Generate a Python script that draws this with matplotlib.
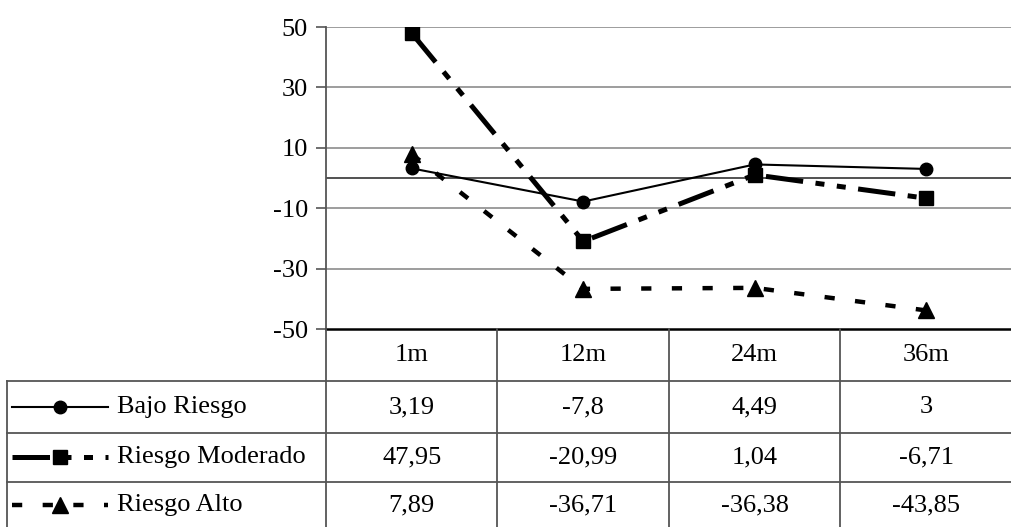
import numpy as np
import matplotlib.pyplot as plt
from matplotlib.lines import Line2D

plt.rcParams['font.family'] = ['Liberation Serif', 'DejaVu Serif']

categories = ['1m', '12m', '24m', '36m']
bajo = [3.19, -7.8, 4.49, 3]
moderado = [47.95, -20.99, 1.04, -6.71]
alto = [7.89, -36.71, -36.38, -43.85]
series_names = ['Bajo Riesgo', 'Riesgo Moderado', 'Riesgo Alto']
series_values = [bajo, moderado, alto]
value_labels = [['3,19', '-7,8', '4,49', '3'],
                ['47,95', '-20,99', '1,04', '-6,71'],
                ['7,89', '-36,71', '-36,38', '-43,85']]
yticks = [50, 30, 10, -10, -30, -50]

W, H = 1012, 527
fig = plt.figure(figsize=(W / 100, H / 100), dpi=100)

# plot area in pixels
left, right, top, bottom = 326, 1012, 27, 329
ax = fig.add_axes([left / W, 1 - bottom / H, (right - left) / W, (bottom - top) / H])

styles = [
    dict(color='black', lw=1.5, marker='o', ms=9, linestyle='-'),
    dict(color='black', lw=3.6, marker='s', ms=10, dashes=(7.5, 2.5, 1.8, 2.5, 1.8, 2.5)),
    dict(color='black', lw=3.2, marker='^', ms=12, dashes=(2.3, 4.6)),
]

x = np.arange(len(categories))
for vals, st in zip(series_values, styles):
    ax.plot(x, vals, zorder=3, **st)

ax.set_xlim(-0.5, len(categories) - 0.5)
ax.set_ylim(-50, 50)
ax.set_yticks(yticks)
ax.set_yticklabels([str(v) for v in yticks], fontsize=19)
ax.set_xticks([])
for v in yticks[:-1]:
    ax.axhline(v, color='#8c8c8c', lw=1.2, zorder=1)
ax.axhline(0, color='#333333', lw=1.2, zorder=1)
for s in ['top', 'right']:
    ax.spines[s].set_visible(False)
ax.spines['left'].set_color('#555555')
ax.spines['left'].set_linewidth(1.3)
ax.spines['bottom'].set_color('black')
ax.spines['bottom'].set_linewidth(1.8)
ax.tick_params(axis='y', length=7, width=1.2, color='#555555', pad=6)

# data table drawn in pixel coordinates
tab = fig.add_axes([0, 0, 1, 1], zorder=0)
tab.set_xlim(0, W)
tab.set_ylim(H, 0)
tab.axis('off')

colw = (right - left) / len(categories)
row_lines = [381, 433, 482]
table_left = 7
grid_c = '#555555'

# horizontal rules
for y in row_lines:
    tab.plot([table_left, right], [y, y], color=grid_c, lw=1.3)
# vertical rules
for i in range(len(categories)):
    xc = left + i * colw
    tab.plot([xc, xc], [bottom, H], color=grid_c, lw=1.3)
tab.plot([table_left, table_left], [row_lines[0], H], color=grid_c, lw=1.3)

# header
for i, c in enumerate(categories):
    tab.text(left + (i + 0.5) * colw, 355, c, ha='center', va='center', fontsize=19)

row_centers = [407, 457, 505]
for r, (name, labels, st) in enumerate(zip(series_names, value_labels, styles)):
    yc = row_centers[r]
    tab.add_line(Line2D([12, 108], [yc, yc], **{k: v for k, v in st.items() if k not in ('marker', 'ms')}))
    tab.plot([60], [yc], color='black', marker=st['marker'], ms=st['ms'], linestyle='none')
    tab.text(117, yc, name, ha='left', va='center', fontsize=19)
    for i, lab in enumerate(labels):
        tab.text(left + (i + 0.5) * colw, yc, lab, ha='center', va='center', fontsize=19)

fig.savefig('out.png', dpi=100)
